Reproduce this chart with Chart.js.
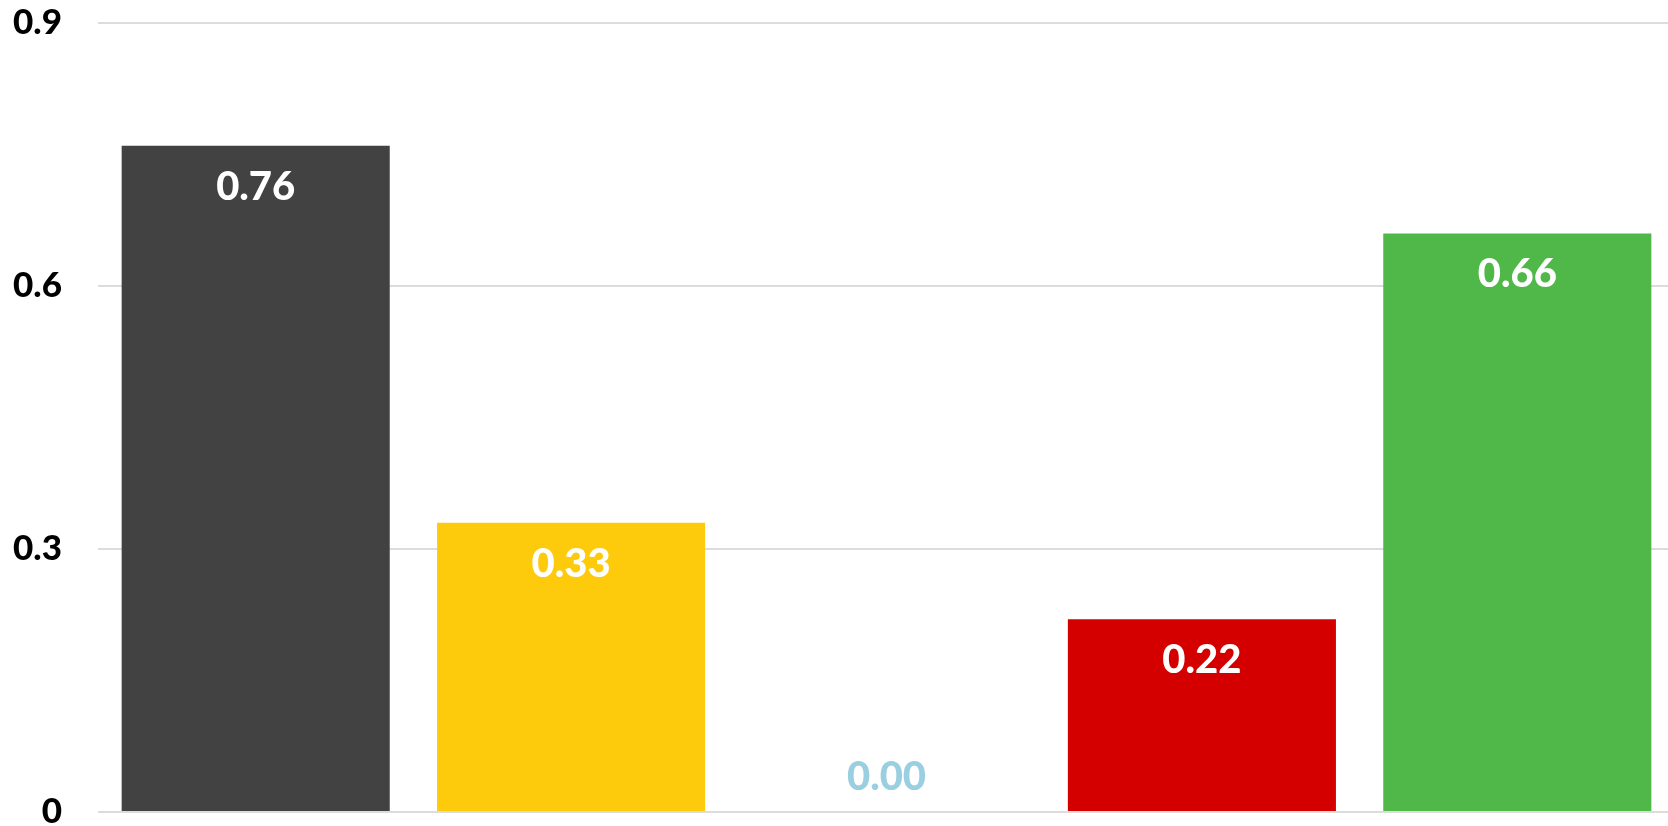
<!DOCTYPE html>
<html>
<head>
<meta charset="utf-8">
<script src="https://cdn.jsdelivr.net/npm/chart.js@4.4.1/dist/chart.umd.min.js"></script>
<style>
    html, body { margin: 0; padding: 0; background: #fff; overflow: hidden; }
    #wrap { width: 1675px; height: 826px; position: relative; }
</style>
</head>
<body>
<div id="wrap"><canvas id="chart"></canvas></div>
<script>
// Chart data
const categories = ['A', 'B', 'C', 'D', 'E'];
const values = [0.76, 0.33, 0.00, 0.22, 0.66];
const barColors = ['#424242', '#FDCB0B', '#99CFE0', '#D40000', '#50B848'];
const yTickValues = [0, 0.3, 0.6, 0.9];
const yTickLabels = ['0', '0.3', '0.6', '0.9'];

const FONT = 'Lato, "Open Sans", "DejaVu Sans", sans-serif';

/**
 * Draws the value of each bar: inside near the top in white,
 * or above the bar in its own colour when the bar is too short
 */
const valueLabels = {
    id: 'valueLabels',
    afterDatasetsDraw(chart) {
        const ctx = chart.ctx;
        const meta = chart.getDatasetMeta(0);
        ctx.save();
        ctx.font = '900 40px ' + FONT;
        ctx.textAlign = 'center';
        ctx.textBaseline = 'middle';
        meta.data.forEach((bar, i) => {
            const height = bar.base - bar.y;
            const text = values[i].toFixed(2);
            if (height > 70) {
                ctx.fillStyle = '#ffffff';
                ctx.fillText(text, bar.x, bar.y + 41);
            } else {
                ctx.fillStyle = barColors[i];
                ctx.fillText(text, bar.x, bar.y - 35);
            }
        });
        ctx.restore();
    }
};

const ctx = document.getElementById('chart').getContext('2d');
new Chart(ctx, {
    type: 'bar',
    data: {
        labels: categories,
        datasets: [{
            data: values,
            backgroundColor: barColors,
            borderWidth: 0,
            categoryPercentage: 1,
            barPercentage: 0.85
        }]
    },
    options: {
        responsive: true,
        maintainAspectRatio: false,
        animation: false,
        layout: {
            padding: { top: 23, bottom: 14, left: 0, right: 0 }
        },
        plugins: {
            legend: { display: false },
            tooltip: { enabled: false }
        },
        scales: {
            x: {
                display: false
            },
            y: {
                min: 0,
                max: 0.9,
                afterBuildTicks(scale) {
                    scale.ticks = yTickValues.map(v => ({ value: v }));
                },
                afterFit(scale) {
                    scale.width = 98;
                    scale.paddingTop = 0;
                    scale.paddingBottom = 0;
                },
                border: { display: false },
                grid: {
                    color: '#dcdcdc',
                    lineWidth: 2,
                    drawTicks: false
                },
                ticks: {
                    padding: 36,
                    color: '#000000',
                    font: { family: FONT, size: 35, weight: '900' },
                    callback: (value) => yTickLabels[yTickValues.indexOf(value)]
                }
            }
        }
    },
    plugins: [valueLabels]
});
</script>
</body>
</html>
